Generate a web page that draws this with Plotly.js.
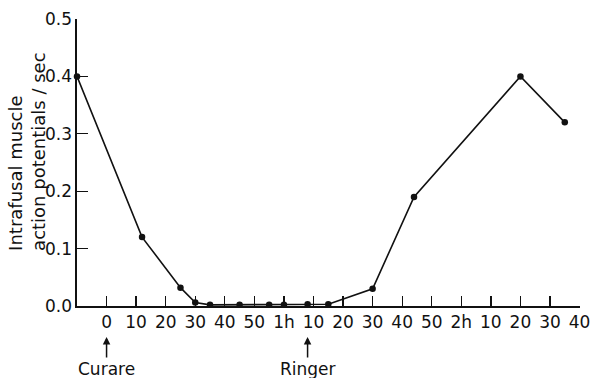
<!DOCTYPE html>
<html>
<head>
<meta charset="utf-8">
<script src="https://cdn.plot.ly/plotly-3.0.1.min.js"></script>
<style>
  html, body { margin: 0; padding: 0; background: #fff; }
  #chart { width: 590px; height: 378px; }
</style>
</head>
<body>
<div id="chart"></div>
<script>
// Time in minutes from curare application (negative = before)
const timeMin = [-10, 12, 25, 30, 35, 45, 55, 60, 68, 75, 90, 104, 140, 155];
// Intrafusal muscle action potentials per second
const rate = [0.40, 0.12, 0.032, 0.006, 0.002, 0.002, 0.002, 0.002, 0.003, 0.003, 0.03, 0.19, 0.40, 0.32];

// Axis ticks: every 10 min, hours marked as "1h", "2h"
const xTickVals = [0, 10, 20, 30, 40, 50, 60, 70, 80, 90, 100, 110, 120, 130, 140, 150, 160];
const xTickText = ["0", "10", "20", "30", "40", "50", "1h", "10", "20", "30", "40", "50", "2h", "10", "20", "30", "40"];
const yTickVals = [0, 0.1, 0.2, 0.3, 0.4, 0.5];
const yTickText = ["0.0", "0.1", "0.2", "0.3", "0.4", "0.5"];

// Drug events marked below the time axis
const eventNames = ["Curare", "Ringer"];
const eventTimes = [0, 68];

const FONT = "DejaVu Sans, Liberation Sans, sans-serif";

const trace = {
  x: timeMin,
  y: rate,
  type: "scatter",
  mode: "lines+markers",
  line: { color: "#111", width: 1.6 },
  marker: { color: "#111", size: 6.5 },
  cliponaxis: false,
  hoverinfo: "x+y"
};

const annotations = eventNames.map((name, i) => ({
  x: eventTimes[i],
  xref: "x",
  y: -0.108,
  yref: "paper",
  text: name,
  showarrow: true,
  arrowhead: 2,
  arrowsize: 1,
  arrowwidth: 1.5,
  arrowcolor: "#111",
  standoff: 0,
  ax: 0,
  ay: 32,
  font: { family: FONT, size: 17, color: "#111" }
}));

annotations.push({
  text: "Intrafusal muscle<br>action potentials / sec",
  textangle: -90,
  align: "left",
  xref: "paper",
  x: -0.1,
  xanchor: "center",
  yref: "y",
  y: 0.092,
  yanchor: "bottom",
  showarrow: false,
  font: { family: FONT, size: 18, color: "#111" }
});

const layout = {
  width: 590,
  height: 378,
  margin: { l: 77, r: 10, t: 19, b: 72 },
  paper_bgcolor: "#fff",
  plot_bgcolor: "#fff",
  showlegend: false,
  font: { family: FONT, size: 17, color: "#111" },
  xaxis: {
    range: [-10, 160.15],
    tickvals: xTickVals,
    ticktext: xTickText,
    ticks: "inside",
    ticklen: 10,
    tickwidth: 1.3,
    tickcolor: "#111",
    ticklabeloverflow: "allow",
    showline: true,
    linecolor: "#111",
    linewidth: 1.6,
    showgrid: false,
    zeroline: false,
    fixedrange: true,
    tickfont: { family: FONT, size: 17, color: "#111" }
  },
  yaxis: {
    range: [0, 0.5],
    tickvals: yTickVals,
    ticktext: yTickText,
    ticks: "inside",
    ticklen: 11,
    tickwidth: 1.3,
    tickcolor: "#111",
    showline: true,
    linecolor: "#111",
    linewidth: 1.6,
    showgrid: false,
    zeroline: false,
    fixedrange: true,
    tickfont: { family: FONT, size: 17, color: "#111" }
  },
  annotations: annotations
};

Plotly.newPlot("chart", [trace], layout, { displayModeBar: false, staticPlot: true });
</script>
</body>
</html>
